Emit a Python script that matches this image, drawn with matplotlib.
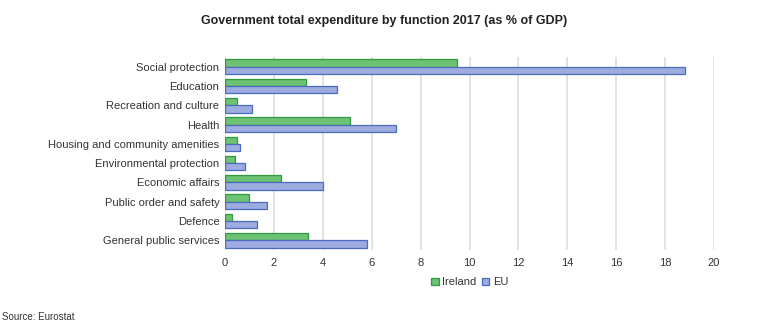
import matplotlib.pyplot as plt
import numpy as np

plt.rcParams.update({
    "font.family": "Liberation Sans",
})

## data
categories = ["Social protection", "Education", "Recreation and culture", "Health",
              "Housing and community amenities", "Environmental protection",
              "Economic affairs", "Public order and safety", "Defence",
              "General public services"]
ireland = [9.5, 3.3, 0.5, 5.1, 0.5, 0.4, 2.3, 1.0, 0.3, 3.4]
eu = [18.8, 4.6, 1.1, 7.0, 0.6, 0.8, 4.0, 1.7, 1.3, 5.8]
x_ticks = [0, 2, 4, 6, 8, 10, 12, 14, 16, 18, 20]

## style
fs0 = 8
h = 0.38
green_fc, green_ec = "#6ec273", "#2f9a3f"
blue_fc, blue_ec = "#9cacde", "#4b6bbf"

y = np.arange(len(categories))

fig = plt.figure(figsize=(7.68, 3.23), dpi=100)
ax = fig.add_axes([225 / 768, 1 - 250 / 323, (714 - 225) / 768, (250 - 57) / 323])

ax.barh(y - h / 2, ireland, h, color=green_fc, edgecolor=green_ec, linewidth=0.9, label="Ireland")
ax.barh(y + h / 2, eu, h, color=blue_fc, edgecolor=blue_ec, linewidth=0.9, label="EU")

ax.set_xlim(0, 20)
ax.set_ylim(len(categories) - 0.5, -0.5)
ax.set_xticks(x_ticks)
ax.set_yticks(y, categories)
ax.tick_params(axis="both", labelsize=fs0, length=0, colors="#333333")
ax.tick_params(axis="x", pad=6)
ax.tick_params(axis="y", pad=4)

for s in ax.spines.values():
    s.set_visible(False)

ax.set_axisbelow(True)
ax.grid(axis="x", color="#dddddd", linewidth=1.2)

ax.legend(loc="upper center", bbox_to_anchor=(0.5, -0.09), ncol=2, frameon=False,
          fontsize=fs0, handlelength=0.7, handleheight=0.7, handletextpad=0.3,
          columnspacing=0.5, labelcolor="#333333")

fig.text(0.5, 1 - 21 / 323, "Government total expenditure by function 2017 (as % of GDP)",
         ha="center", va="center", fontsize=9, fontweight="bold", color="#222222")
fig.text(0.003, 1 - 317 / 323, "Source: Eurostat", ha="left", va="center", fontsize=7, color="#333333")

fig.savefig("out.png", dpi=100)
